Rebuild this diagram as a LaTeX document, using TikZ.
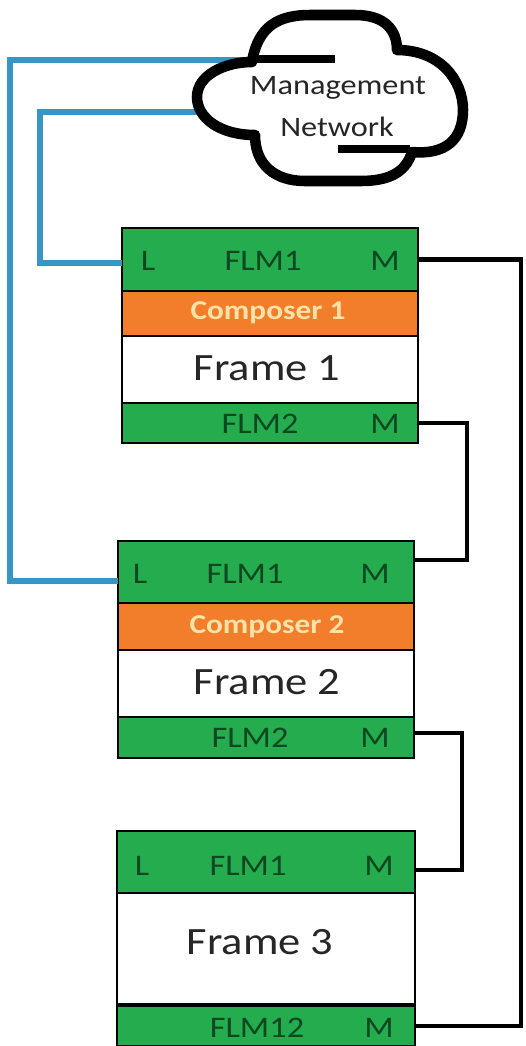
\documentclass[tikz,border=0pt]{standalone}
\usepackage{fontspec}
\setmainfont[FakeStretch=1.15]{Carlito}
\usetikzlibrary{positioning}
\definecolor{flmgreen}{RGB}{36,172,78}
\definecolor{flmtext}{RGB}{14,72,32}
\definecolor{composerorange}{RGB}{242,126,44}
\definecolor{composertext}{RGB}{255,226,168}
\definecolor{lanblue}{RGB}{56,150,196}

\begin{document}
\begin{tikzpicture}[x=0.02cm, y=-0.02cm,
    band/.style={draw, line width=1pt, minimum width=5.92cm, inner sep=0pt, outer sep=0pt},
    flm/.style={band, fill=flmgreen},
    comp/.style={band, fill=composerorange},
    body/.style={band, fill=white},
    flmtxt/.style={text=flmtext, font=\fontsize{17}{20}\selectfont},
    comptxt/.style={text=composertext, font=\bfseries\fontsize{15.5}{18}\selectfont},
    frametxt/.style={text=black!85, font=\fontsize{22}{26}\selectfont},
    cloudtxt/.style={text=black!85, font=\fontsize{16}{19}\selectfont},
    wire/.style={line width=2.6pt, black},
    lan/.style={line width=3.4pt, lanblue}]
    \path[fill=white] (0,0) rectangle (526,1046);
    \useasboundingbox (0,0) rectangle (526,1046);

    % frame 1
    \node[flm, minimum height=1.26cm] at (270,259.5) (f1flm1) {};
    \node[comp, minimum height=0.9cm, below=0pt of f1flm1] (f1comp) {};
    \node[body, minimum height=1.34cm, below=0pt of f1comp] (f1body) {};
    \node[flm, minimum height=0.8cm, below=0pt of f1body] (f1flm2) {};
    \node[flmtxt] at (148,261) (f1l) {L};
    \node[flmtxt] at (263,261) (f1flm1t) {FLM1};
    \node[flmtxt] at (385,261) (f1m1) {M};
    \node[comptxt] at (268,313) (f1compt) {Composer 1};
    \node[frametxt] at (267,368) (f1t) {Frame 1};
    \node[flmtxt] at (260,424) (f1flm2t) {FLM2};
    \node[flmtxt] at (385,424) (f1m2) {M};

    % frame 2
    \node[flm, minimum height=1.24cm] at (266,572) (f2flm1) {};
    \node[comp, minimum height=0.94cm, below=0pt of f2flm1] (f2comp) {};
    \node[body, minimum height=1.34cm, below=0pt of f2comp] (f2body) {};
    \node[flm, minimum height=0.82cm, below=0pt of f2body] (f2flm2) {};
    \node[flmtxt] at (140,574) (f2l) {L};
    \node[flmtxt] at (245,574) (f2flm1t) {FLM1};
    \node[flmtxt] at (375,574) (f2m1) {M};
    \node[comptxt] at (267,627) (f2compt) {Composer 2};
    \node[frametxt] at (267,682) (f2t) {Frame 2};
    \node[flmtxt] at (250,738) (f2flm2t) {FLM2};
    \node[flmtxt] at (375,738) (f2m2) {M};

    % frame 3
    \node[flm, minimum width=5.96cm, minimum height=1.24cm] at (266,862) (f3flm1) {};
    \node[body, minimum width=5.96cm, minimum height=2.22cm, below=0pt of f3flm1] (f3body) {};
    \node[flm, minimum width=5.96cm, minimum height=0.8cm] at (266,1026) (f3flm12) {};
    \node[flmtxt] at (142,866) (f3l) {L};
    \node[flmtxt] at (248,866) (f3flm1t) {FLM1};
    \node[flmtxt] at (379,866) (f3m1) {M};
    \node[frametxt] at (260,942) (f3t) {Frame 3};
    \node[flmtxt] at (257,1028) (f3flm12t) {FLM12};
    \node[flmtxt] at (379,1028) (f3m2) {M};

    % stacking links
    \draw[wire] (f1flm1.east) -- ++(103,0) |- (f3flm12.east);
    \draw[wire] (f1flm2.east) -- ++(49,0) |- ([yshift=0.24cm]f2flm1.east);
    \draw[wire] ([yshift=0.09cm]f2flm2.east) -- ++(48,0) |- ([yshift=-0.16cm]f3flm1.east);

    % management network
    \coordinate (cloudtop) at (252,60);
    \coordinate (cloudleft) at (199,112);
    \draw[lan] (cloudtop) -- ++(-242,0) |- ([yshift=-0.18cm]f2flm1.west);
    \draw[lan] (cloudleft) -- ++(-159,0) |- ([yshift=-0.07cm]f1flm1.west);
    \draw[line width=6pt, line join=round] (252,62)
        .. controls (258,25) and (280,15) .. (310,15) -- (355,15)
        .. controls (385,15) and (397,30) .. (397,50)
        .. controls (440,50) and (463,80) .. (463,110)
        .. controls (463,140) and (445,155) .. (412,152)
        .. controls (405,175) and (385,181) .. (360,181) -- (305,181)
        .. controls (275,181) and (255,165) .. (255,135)
        .. controls (220,135) and (197,118) .. (197,97)
        .. controls (197,75) and (225,62) .. (252,62) -- cycle;
    \draw[line width=4.5pt] (257,59) -- (335,59);
    \draw[line width=4.5pt] (338,149) -- (410,149);
    \node[cloudtxt] at (338,88) (mgmt) {Management};
    \node[cloudtxt] at (337,127) (net) {Network};
\end{tikzpicture}
\end{document}
